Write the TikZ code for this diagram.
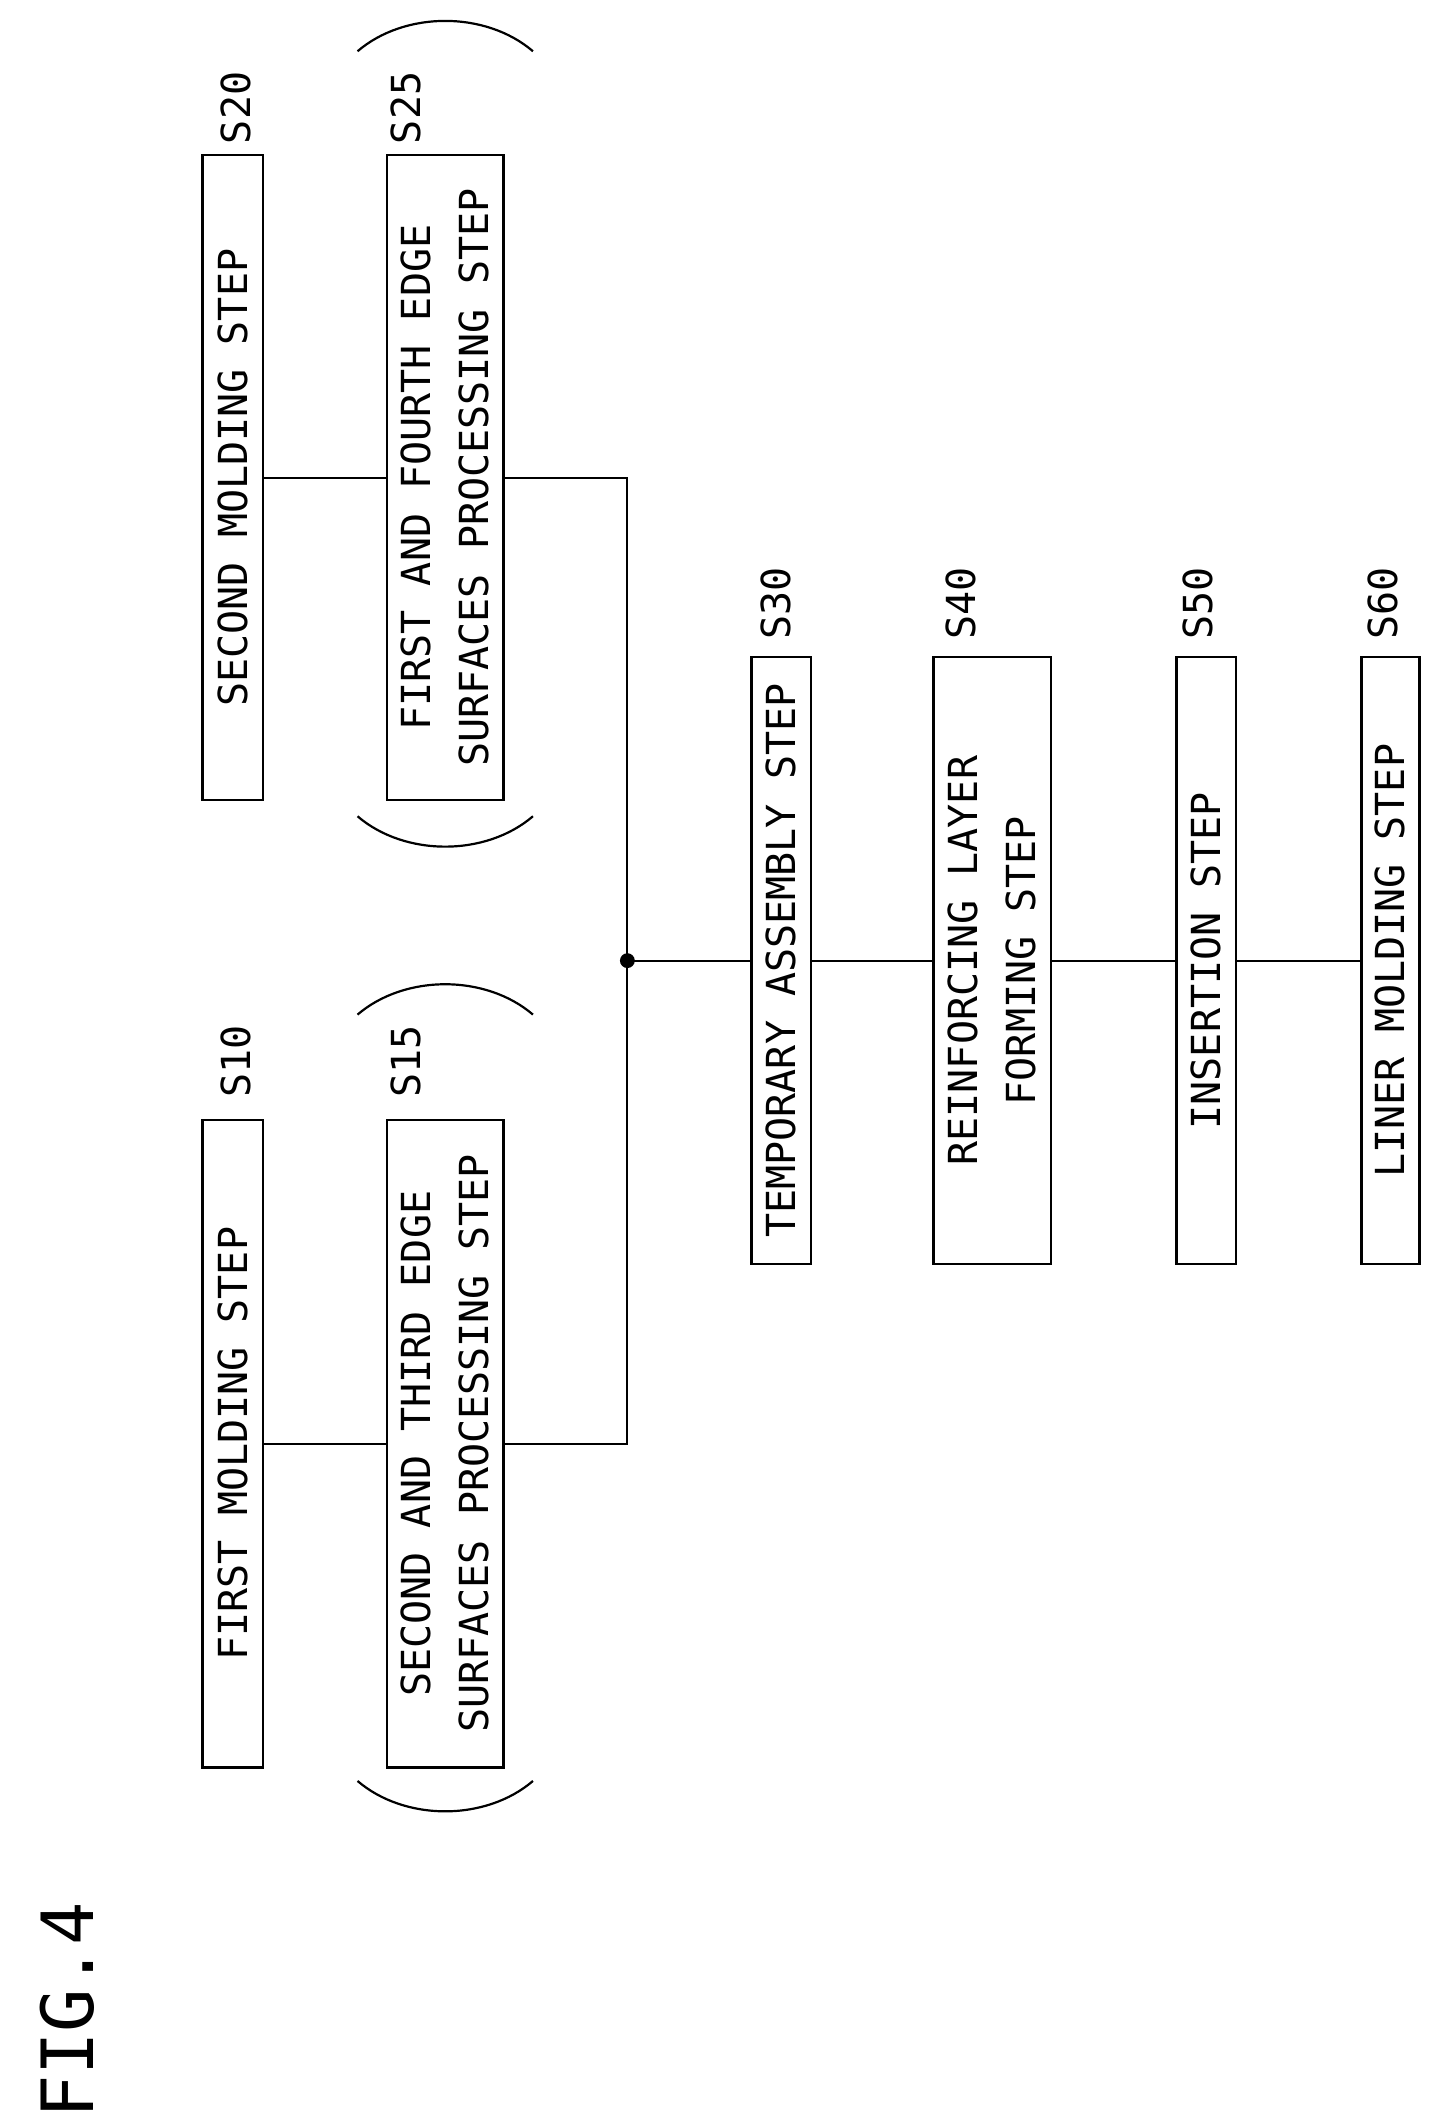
\documentclass[tikz,border=0pt]{standalone}
\usepackage{fontspec}
\setmainfont{DejaVu Sans Mono}
\begin{document}
\begin{tikzpicture}[x=1.3486pt,y=-1.3486pt,
  every node/.style={font=\fontsize{40}{58}\selectfont},
  box/.style={draw,line width=2.5pt,rotate=90,minimum width=#1*1.3486pt,inner sep=0pt,align=center},
  lbl/.style={rotate=90},
  ln/.style={line width=2.2pt}]
\useasboundingbox (0,0) rectangle (1073,1575);
\node[box=480,minimum height=45*1.3486pt] (s10) at (172.5,1070) {FIRST MOLDING STEP};
\node[box=480,minimum height=86*1.3486pt] (s15) at (330,1070) {SECOND AND THIRD EDGE\\SURFACES PROCESSING STEP};
\node[box=478,minimum height=45*1.3486pt] (s20) at (172.5,354) {SECOND MOLDING STEP};
\node[box=478,minimum height=86*1.3486pt] (s25) at (330,354) {FIRST AND FOURTH EDGE\\SURFACES PROCESSING STEP};
\node[box=450,minimum height=44*1.3486pt] (s30) at (579,712) {TEMPORARY ASSEMBLY STEP};
\node[box=450,minimum height=87*1.3486pt] (s40) at (735.5,712) {REINFORCING LAYER\\FORMING STEP};
\node[box=450,minimum height=44*1.3486pt] (s50) at (894,712) {INSERTION STEP};
\node[box=450,minimum height=43*1.3486pt] (s60) at (1030.5,712) {LINER MOLDING STEP};
\node[lbl] (l10) at (175,787) {S10};
\node[lbl] (l15) at (301,787) {S15};
\node[lbl] (l20) at (175,80) {S20};
\node[lbl] (l25) at (301,80) {S25};
\node[lbl] (l30) at (575,447) {S30};
\node[lbl] (l40) at (712,447) {S40};
\node[lbl] (l50) at (888,447) {S50};
\node[lbl] (l60) at (1025,447) {S60};
\node[lbl,font=\fontsize{72}{80}\selectfont] (fig) at (50,1490) {FIG.4};
\coordinate (j) at (465,712);
\coordinate (jb) at (465,1070);
\coordinate (jt) at (465,354);
\draw[ln] (s10.south) -- (s15.north);
\draw[ln] (s15.south) -- (jb) -- (jt) -- (s25.south);
\draw[ln] (s20.south) -- (s25.north);
\draw[ln] (j) -- (s30.north);
\draw[ln] (s30.south) -- (s40.north);
\draw[ln] (s40.south) -- (s50.north);
\draw[ln] (s50.south) -- (s60.north);
\fill (j) circle (5.5);
\begin{scope}[line width=2.2pt]
\draw (265,752) .. controls (300,722) and (360,722) .. (395,752);
\draw (265,1320) .. controls (300,1350) and (360,1350) .. (395,1320);
\draw (265,38) .. controls (300,8) and (360,8) .. (395,38);
\draw (265,605) .. controls (300,635) and (360,635) .. (395,605);
\end{scope}
\end{tikzpicture}
\end{document}
